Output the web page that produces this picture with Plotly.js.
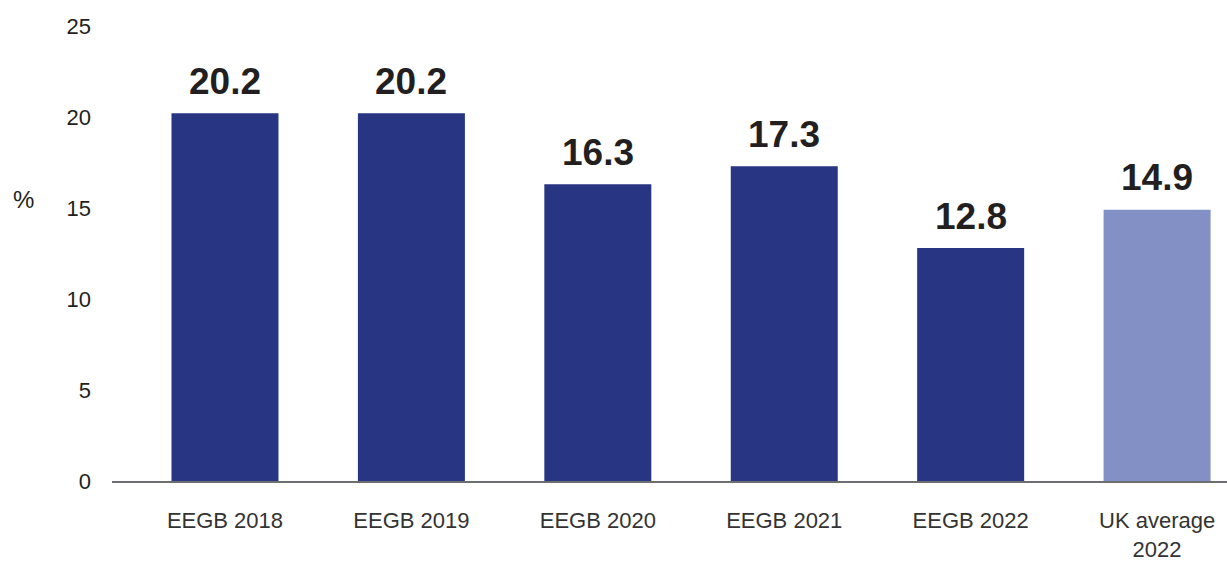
<!DOCTYPE html>
<html>
<head>
<meta charset="utf-8">
<script src="https://cdn.plot.ly/plotly-3.0.1.min.js"></script>
<style>html,body{margin:0;padding:0;background:#fff;}#chart{width:1227px;height:561px;}</style>
</head>
<body>
<div id="chart"></div>
<script>
const categories = ["EEGB 2018", "EEGB 2019", "EEGB 2020", "EEGB 2021", "EEGB 2022", "UK average<br>2022"];
const values = [20.2, 20.2, 16.3, 17.3, 12.8, 14.9];
const labels = ["20.2", "20.2", "16.3", "17.3", "12.8", "14.9"];
const yTicks = [0, 5, 10, 15, 20, 25];

const DARK = "#283583";
const LIGHT = "#8390C6";
const barColors = categories.map((c, i) => i === categories.length - 1 ? LIGHT : DARK);
const FONT = "Liberation Sans, Arial, Helvetica, sans-serif";
const TEXT = "#231f20";

const trace = {
  type: "bar",
  x: categories,
  y: values,
  marker: {color: barColors},
  hoverinfo: "none"
};

const annotations = categories.map((c, i) => ({
  x: c, y: values[i], xref: "x", yref: "y",
  text: labels[i], showarrow: false,
  yanchor: "middle", yshift: 32,
  font: {family: FONT, size: 37, color: TEXT, weight: "bold"}
}));
annotations.push({
  xref: "paper", yref: "paper", x: -0.079, y: 0.6176,
  text: "%", showarrow: false, xanchor: "center", yanchor: "middle",
  font: {family: FONT, size: 24, color: TEXT}
});

const layout = {
  width: 1227, height: 561,
  margin: {l: 112, r: 0, t: 26, b: 80},
  paper_bgcolor: "#fff", plot_bgcolor: "#fff",
  showlegend: false,
  bargap: 0.426,
  xaxis: {
    type: "category",
    range: [-0.606, 5.375],
    showline: true, linecolor: "#6d6e71", linewidth: 1.5,
    showgrid: false, zeroline: false, ticks: "",
    ticklabelstandoff: 19,
    tickfont: {family: FONT, size: 22, color: "#333333"}
  },
  yaxis: {
    range: [0, 25],
    tickvals: yTicks,
    ticktext: yTicks.map(String),
    showline: false, showgrid: false, zeroline: false, ticks: "",
    ticklabelstandoff: 20,
    tickfont: {family: FONT, size: 22, color: TEXT}
  },
  annotations: annotations
};

Plotly.newPlot("chart", [trace], layout, {staticPlot: true, displayModeBar: false});
</script>
</body>
</html>
